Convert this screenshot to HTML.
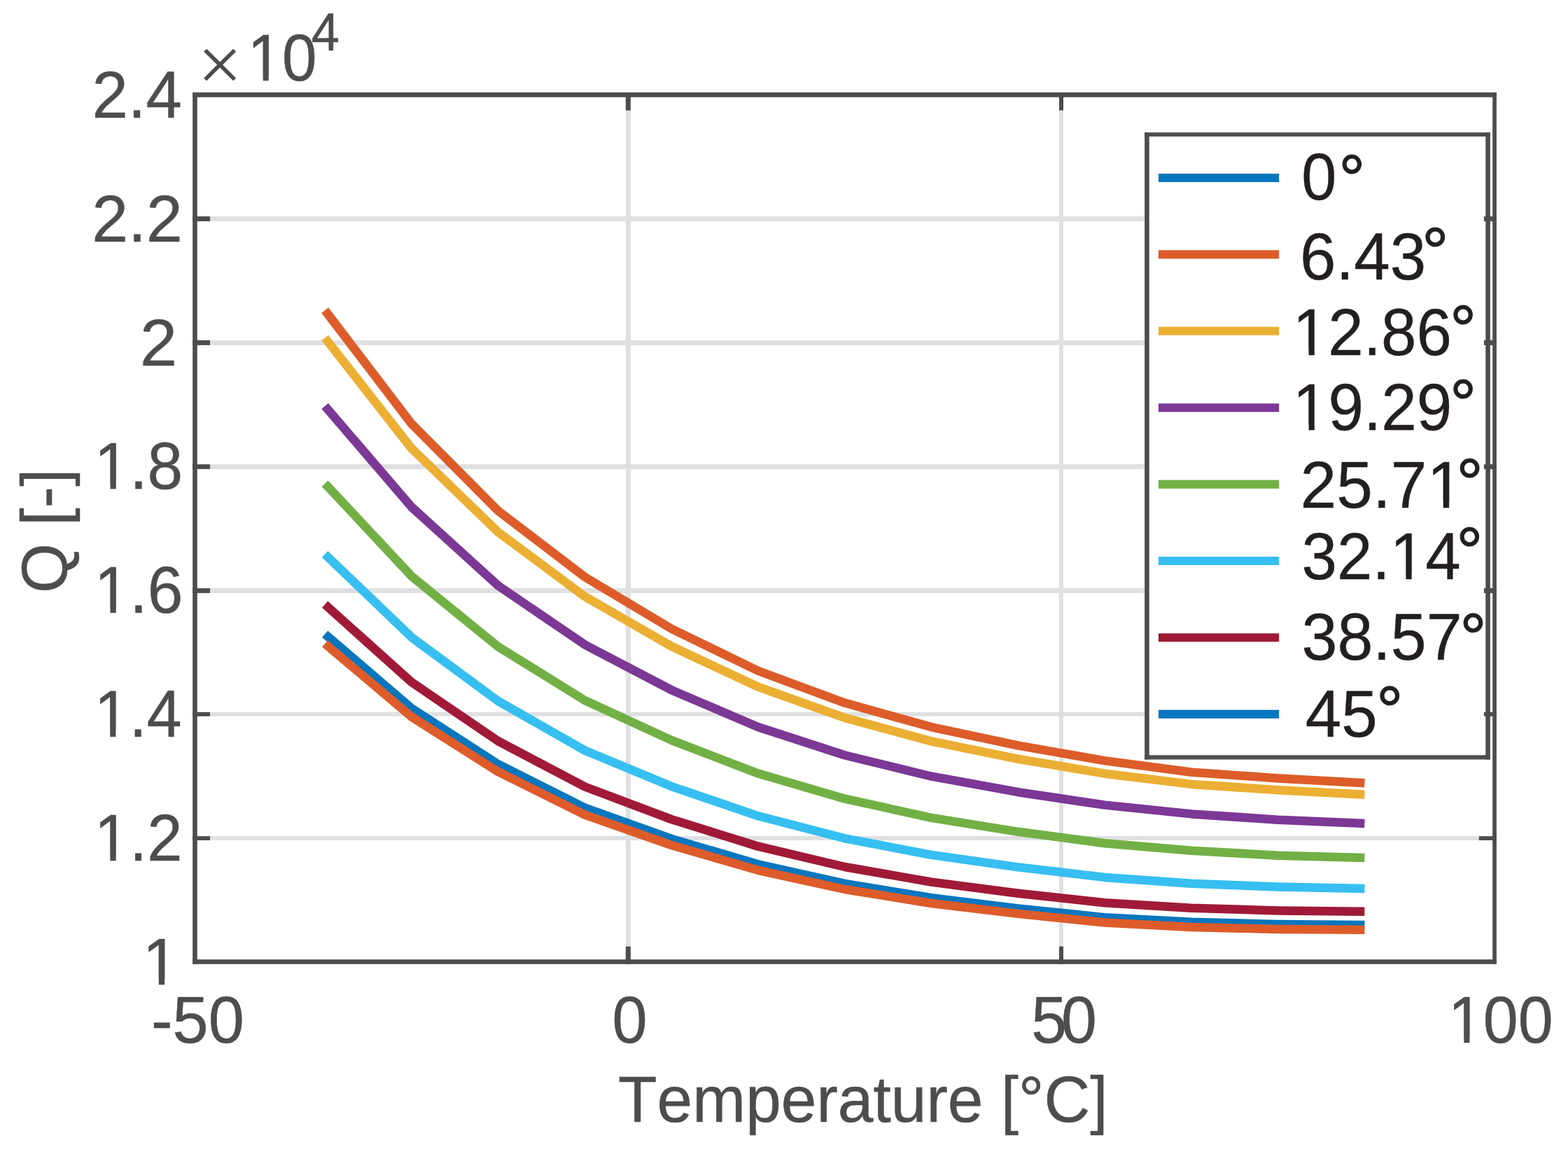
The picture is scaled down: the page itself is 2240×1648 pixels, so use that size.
<!DOCTYPE html>
<html lang="en">
<head>
<meta charset="utf-8">
<title>Q vs Temperature</title>
<style>
html,body{margin:0;padding:0;background:#fff;}
body{width:2240px;height:1648px;overflow:hidden;position:relative;}
svg{display:block;position:absolute;left:0;top:0;}
text{font-family:"Liberation Sans",sans-serif;font-kerning:none;white-space:pre;}
.t{fill:#4c4d4f;stroke:#4c4d4f;stroke-width:0.5px;stroke-linejoin:round;}
.l{fill:#231f20;stroke:#231f20;stroke-width:0.4px;stroke-linejoin:round;}
.x{font-family:"Liberation Serif","DejaVu Serif",serif;stroke:none;}
</style>
</head>
<body>
<svg width="2240" height="1648" viewBox="0 0 2240 1648">
<defs><clipPath id="k1"><path d="M-20,-164.5H388.7V45.7H-20ZM4.96,-7.93H22.88V3.00H4.96ZM31.16,-7.93H48.37V3.00H31.16Z" clip-rule="evenodd"/></clipPath><clipPath id="k2"><path d="M-20,-164.5H388.7V45.7H-20ZM4.96,-7.93H22.88V3.00H4.96ZM31.16,-7.93H48.37V3.00H31.16Z" clip-rule="evenodd"/></clipPath><clipPath id="k3"><path d="M-20,-164.5H388.7V45.7H-20ZM182.85,-7.93H200.77V3.00H182.85ZM209.05,-7.93H226.26V3.00H209.05Z" clip-rule="evenodd"/></clipPath><clipPath id="k4"><path d="M-20,-164.5H388.7V45.7H-20ZM132.02,-7.93H149.94V3.00H132.02ZM158.22,-7.93H175.43V3.00H158.22Z" clip-rule="evenodd"/></clipPath><clipPath id="k5"><path d="M-20,-164.5H287.1V45.7H-20ZM4.96,-7.93H22.88V3.00H4.96ZM31.16,-7.93H48.37V3.00H31.16Z" clip-rule="evenodd"/></clipPath><clipPath id="k6"><path d="M-20,-164.5H287.1V45.7H-20ZM4.96,-7.93H22.88V3.00H4.96ZM31.16,-7.93H48.37V3.00H31.16Z" clip-rule="evenodd"/></clipPath><clipPath id="k7"><path d="M-20,-164.5H287.1V45.7H-20ZM4.96,-7.93H22.88V3.00H4.96ZM31.16,-7.93H48.37V3.00H31.16Z" clip-rule="evenodd"/></clipPath><clipPath id="k8"><path d="M-20,-164.5H287.1V45.7H-20ZM4.96,-7.93H22.88V3.00H4.96ZM31.16,-7.93H48.37V3.00H31.16Z" clip-rule="evenodd"/></clipPath><clipPath id="k9"><path d="M-20,-164.5H210.8V45.7H-20ZM4.96,-7.93H22.88V3.00H4.96ZM31.16,-7.93H48.37V3.00H31.16Z" clip-rule="evenodd"/></clipPath><clipPath id="k10"><path d="M-20,-164.5H312.5V45.7H-20ZM4.96,-7.93H22.88V3.00H4.96ZM31.16,-7.93H48.37V3.00H31.16Z" clip-rule="evenodd"/></clipPath><clipPath id="k11"><path d="M-20,-164.5H261.7V45.7H-20ZM4.96,-7.93H22.88V3.00H4.96ZM31.16,-7.93H48.37V3.00H31.16Z" clip-rule="evenodd"/></clipPath></defs>
<rect x="0" y="0" width="2240" height="1648" fill="#ffffff"/>
<g shape-rendering="crispEdges">
<rect x="893.90" y="132.00" width="7.00" height="1244.80" fill="#dfe0e2"/>
<rect x="1513.00" y="132.00" width="6.10" height="1244.80" fill="#dfe0e2"/>
<rect x="275.20" y="309.00" width="1862.70" height="7.00" fill="#dfe0e2"/>
<rect x="275.20" y="485.90" width="1862.70" height="7.00" fill="#dfe0e2"/>
<rect x="275.20" y="663.10" width="1862.70" height="6.70" fill="#dfe0e2"/>
<rect x="275.20" y="840.10" width="1862.70" height="6.80" fill="#dfe0e2"/>
<rect x="275.20" y="1017.00" width="1862.70" height="5.90" fill="#dfe0e2"/>
<rect x="275.20" y="1194.20" width="1862.70" height="5.80" fill="#dfe0e2"/>
</g>
<g fill="none" stroke-width="12.5" stroke-linejoin="round" stroke-linecap="butt">
<polyline stroke="#0876be" points="464.2,905.4 587.9,1011.5 711.7,1091.4 835.5,1153.7 959.3,1197.9 1083.0,1234.3 1206.8,1261.9 1330.6,1282.2 1454.3,1297.5 1578.1,1310.2 1701.9,1316.8 1825.7,1320.0 1949.4,1320.9"/>
<polyline stroke="#dd5c2a" points="464.2,919.2 587.9,1023.6 711.7,1102.2 835.5,1163.6 959.3,1207.0 1083.0,1242.8 1206.8,1270.0 1330.6,1290.0 1454.3,1304.9 1578.1,1317.5 1701.9,1324.0 1825.7,1327.0 1949.4,1327.8"/>
<polyline stroke="#dd5c2a" points="464.2,443.1 587.9,605.2 711.7,729.6 835.5,824.0 959.3,898.0 1083.0,958.0 1206.8,1003.8 1330.6,1038.3 1454.3,1064.6 1578.1,1086.4 1701.9,1102.8 1825.7,1111.4 1949.4,1118.3"/>
<polyline stroke="#ebaf33" points="464.2,482.5 587.9,640.3 711.7,760.0 835.5,851.9 959.3,923.0 1083.0,980.9 1206.8,1025.1 1330.6,1058.6 1454.3,1083.8 1578.1,1104.7 1701.9,1119.9 1825.7,1128.2 1949.4,1134.7"/>
<polyline stroke="#7b3895" points="464.2,579.9 587.9,724.0 711.7,836.3 835.5,920.7 959.3,985.4 1083.0,1038.3 1206.8,1078.5 1330.6,1108.7 1454.3,1131.2 1578.1,1149.6 1701.9,1162.4 1825.7,1170.7 1949.4,1175.9"/>
<polyline stroke="#72b046" points="464.2,690.4 587.9,822.8 711.7,923.6 835.5,1000.2 959.3,1057.1 1083.0,1104.6 1206.8,1140.7 1330.6,1167.8 1454.3,1187.8 1578.1,1204.2 1701.9,1214.7 1825.7,1221.7 1949.4,1225.1"/>
<polyline stroke="#36bff0" points="464.2,791.4 587.9,910.1 711.7,1001.2 835.5,1071.8 959.3,1123.1 1083.0,1165.3 1206.8,1197.3 1330.6,1220.9 1454.3,1238.4 1578.1,1252.9 1701.9,1261.7 1825.7,1266.6 1949.4,1268.9"/>
<polyline stroke="#a01a37" points="464.2,863.2 587.9,974.2 711.7,1058.4 835.5,1123.5 959.3,1170.1 1083.0,1208.7 1206.8,1238.0 1330.6,1259.6 1454.3,1275.7 1578.1,1289.2 1701.9,1296.8 1825.7,1300.4 1949.4,1301.8"/>
</g>
<g>
<rect x="893.90" y="1351.60" width="7.00" height="25.20" fill="#4c4d4f"/>
<rect x="893.90" y="132.00" width="7.00" height="25.70" fill="#4c4d4f"/>
<rect x="1513.00" y="1351.60" width="6.10" height="25.20" fill="#4c4d4f"/>
<rect x="1513.00" y="132.00" width="6.10" height="25.70" fill="#4c4d4f"/>
<rect x="275.20" y="309.00" width="24.90" height="7.00" fill="#4c4d4f"/>
<rect x="2112.80" y="309.00" width="25.10" height="7.00" fill="#4c4d4f"/>
<rect x="275.20" y="485.90" width="24.90" height="7.00" fill="#4c4d4f"/>
<rect x="2112.80" y="485.90" width="25.10" height="7.00" fill="#4c4d4f"/>
<rect x="275.20" y="663.10" width="24.90" height="6.70" fill="#4c4d4f"/>
<rect x="2112.80" y="663.10" width="25.10" height="6.70" fill="#4c4d4f"/>
<rect x="275.20" y="840.10" width="24.90" height="6.80" fill="#4c4d4f"/>
<rect x="2112.80" y="840.10" width="25.10" height="6.80" fill="#4c4d4f"/>
<rect x="275.20" y="1017.00" width="24.90" height="5.90" fill="#4c4d4f"/>
<rect x="2112.80" y="1017.00" width="25.10" height="5.90" fill="#4c4d4f"/>
<rect x="275.20" y="1194.20" width="24.90" height="5.80" fill="#4c4d4f"/>
<rect x="2112.80" y="1194.20" width="25.10" height="5.80" fill="#4c4d4f"/>
<rect x="275.20" y="132.00" width="6.60" height="1244.80" fill="#4c4d4f"/>
<rect x="2132.20" y="132.00" width="5.70" height="1244.80" fill="#4c4d4f"/>
<rect x="275.20" y="132.00" width="1862.70" height="6.80" fill="#4c4d4f"/>
<rect x="275.20" y="1370.20" width="1862.70" height="6.60" fill="#4c4d4f"/>
</g>
<rect x="1635.20" y="189.20" width="493.70" height="895.40" fill="#ffffff"/>
<rect x="1635.20" y="189.20" width="6.60" height="895.40" fill="#4c4d4f"/>
<rect x="2122.30" y="189.20" width="6.60" height="895.40" fill="#4c4d4f"/>
<rect x="1635.20" y="189.20" width="493.70" height="5.70" fill="#4c4d4f"/>
<rect x="1635.20" y="1078.40" width="493.70" height="6.20" fill="#4c4d4f"/>
<rect x="2119.90" y="1017.00" width="18.00" height="5.90" fill="#4c4d4f"/>
<rect x="2119.90" y="840.10" width="18.00" height="6.80" fill="#4c4d4f"/>
<rect x="2119.90" y="663.10" width="18.00" height="6.70" fill="#4c4d4f"/>
<rect x="2119.90" y="485.90" width="18.00" height="7.00" fill="#4c4d4f"/>
<rect x="2119.90" y="309.00" width="18.00" height="7.00" fill="#4c4d4f"/>
<g stroke-width="12.1" fill="none">
<line x1="1655" y1="254.00" x2="1827.2" y2="254.00" stroke="#0876be"/>
<line x1="1655" y1="363.41" x2="1827.2" y2="363.41" stroke="#dd5c2a"/>
<line x1="1655" y1="472.82" x2="1827.2" y2="472.82" stroke="#ebaf33"/>
<line x1="1655" y1="582.23" x2="1827.2" y2="582.23" stroke="#7b3895"/>
<line x1="1655" y1="691.64" x2="1827.2" y2="691.64" stroke="#72b046"/>
<line x1="1655" y1="801.05" x2="1827.2" y2="801.05" stroke="#36bff0"/>
<line x1="1655" y1="910.46" x2="1827.2" y2="910.46" stroke="#a01a37"/>
<line x1="1655" y1="1019.87" x2="1827.2" y2="1019.87" stroke="#0876be"/>
</g>
<text class="l" transform="translate(1859.28,285.20) scale(0.9865,1.0337)" style="font-size:91.4px">0<tspan x="53.94" y="3.23" style="font-size:95.47px;stroke-width:1.1px">°</tspan></text>
<text class="l" transform="translate(1857.10,398.60) scale(1.0134,1.0337)" style="font-size:91.4px">6.43<tspan x="171.82" y="-5.53" style="font-size:94.19px;stroke-width:1.1px">°</tspan></text>
<text class="l" clip-path="url(#k1)" transform="translate(1846.85,506.80) scale(0.9935,1.0337)" style="font-size:91.4px">12.86<tspan x="225.98" y="-2.33" style="font-size:95.13px;stroke-width:1.1px">°</tspan></text>
<text class="l" clip-path="url(#k2)" transform="translate(1846.84,613.80) scale(0.9949,1.0337)" style="font-size:91.4px">19.29<tspan x="225.67" y="-3.71" style="font-size:95.06px;stroke-width:1.1px">°</tspan></text>
<text class="l" clip-path="url(#k3)" transform="translate(1857.42,724.80) scale(1.0178,1.0337)" style="font-size:91.4px">25.71<tspan x="219.18" y="-1.36" style="font-size:93.98px;stroke-width:1.1px">°</tspan></text>
<text class="l" clip-path="url(#k4)" transform="translate(1859.54,826.60) scale(0.9930,1.0337)" style="font-size:91.4px">32.14<tspan x="222.59" y="-5.80" style="font-size:95.15px;stroke-width:1.1px">°</tspan></text>
<text class="l" transform="translate(1859.51,941.70) scale(1.0016,1.0337)" style="font-size:91.4px">38.57<tspan x="225.57" y="2.44" style="font-size:94.74px;stroke-width:1.1px">°</tspan></text>
<text class="l" transform="translate(1864.67,1051.80) scale(1.0143,1.0337)" style="font-size:91.4px">45<tspan x="100.11" y="-3.81" style="font-size:94.14px;stroke-width:1.1px">°</tspan></text>
<text class="t" transform="translate(131.46,167.90) scale(1.0102,1.0337)" style="font-size:91.4px">2.4</text>
<text class="t" transform="translate(131.22,344.80) scale(1.0190,1.0337)" style="font-size:91.4px">2.2</text>
<text class="t" transform="translate(200.00,521.90) scale(1.0447,1.0337)" style="font-size:91.4px">2</text>
<text class="t" clip-path="url(#k5)" transform="translate(134.73,698.30) scale(0.9958,1.0337)" style="font-size:91.4px">1.8</text>
<text class="t" clip-path="url(#k6)" transform="translate(134.73,875.10) scale(0.9962,1.0337)" style="font-size:91.4px">1.6</text>
<text class="t" clip-path="url(#k7)" transform="translate(134.85,1051.90) scale(0.9813,1.0337)" style="font-size:91.4px">1.4</text>
<text class="t" clip-path="url(#k8)" transform="translate(134.78,1229.00) scale(0.9899,1.0337)" style="font-size:91.4px">1.2</text>
<text class="t" clip-path="url(#k9)" transform="translate(203.72,1405.90) scale(1.0102,1.0337)" style="font-size:91.4px">1</text>
<text class="t" transform="translate(216.01,1489.00) scale(1.0059,1.0337)" style="font-size:91.4px">-50</text>
<text class="t" transform="translate(874.58,1489.00) scale(0.9865,1.0337)" style="font-size:91.4px">0</text>
<text class="t" transform="translate(1473.34,1489.00) scale(1,1.0337)" dx="0 -8.14" style="font-size:91.4px">50</text>
<text class="t" clip-path="url(#k10)" transform="translate(2068.84,1489.00) scale(0.9828,1.0337)" style="font-size:91.4px">100</text>
<text class="t x" x="282.16" y="129.77" style="font-size:113.0px">×</text>
<text class="t" clip-path="url(#k11)" transform="translate(353.39,115.20) scale(0.9757,1.0337)" style="font-size:91.4px">10</text>
<text class="t" transform="translate(444.74,71.90) scale(0.9922,1.0354)" style="font-size:73.0px">4</text>
<text class="t" transform="translate(882.95,1602.10) scale(0.9967,1.0050)" style="font-size:91.4px">Temperature [°C]</text>
<text class="t" transform="translate(95.0,847.02) rotate(-90) scale(0.9990,1.0050)" style="font-size:91.4px">Q [-]</text>
</svg>
</body>
</html>
